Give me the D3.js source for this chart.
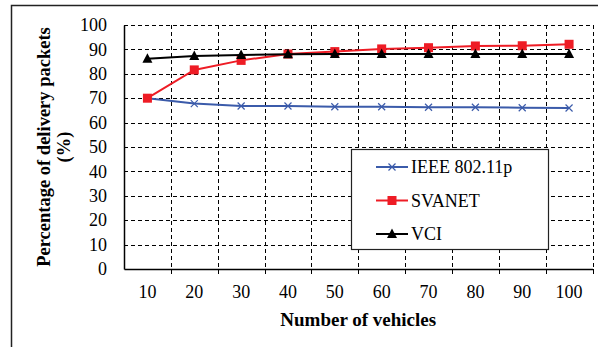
<!DOCTYPE html>
<html>
<head>
<meta charset="utf-8">
<script src="https://cdn.jsdelivr.net/npm/d3@7"></script>
<style>
  html, body { margin: 0; padding: 0; background: #fff; }
  svg { display: block; }
</style>
</head>
<body>
<svg id="chart" width="598" height="347"></svg>
<script>
// Delivery ratio vs. number of vehicles
const vehicles = [10, 20, 30, 40, 50, 60, 70, 80, 90, 100];
const ieee = [70.0, 67.8, 66.8, 66.8, 66.5, 66.5, 66.3, 66.3, 66.1, 66.0];
const svanet = [70.0, 81.6, 85.5, 88.1, 89.1, 90.2, 90.7, 91.4, 91.5, 92.1];
const vci = [86.2, 87.3, 87.7, 88.0, 88.1, 88.1, 88.1, 88.1, 88.1, 88.1];
const yTicks = [0, 10, 20, 30, 40, 50, 60, 70, 80, 90, 100];
const seriesNames = ["IEEE 802.11p", "SVANET", "VCI"];

const FONT = "'Liberation Serif', 'Times New Roman', Times, 'DejaVu Serif', serif";

const series = [
  { name: seriesNames[0], values: ieee, color: "#3b5baa", marker: "x" },
  { name: seriesNames[1], values: svanet, color: "#ee1c25", marker: "square" },
  { name: seriesNames[2], values: vci, color: "#000000", marker: "triangle" }
];

const svg = d3.select("#chart").attr("font-family", FONT);
const plot = { left: 124, top: 25, right: 592.5, bottom: 269 };

// outer frame
svg.append("path")
  .attr("d", "M11.5,347 L11.5,5.5 L598,5.5")
  .attr("fill", "none").attr("stroke", "#222").attr("stroke-width", 1.5);

const x = d3.scaleBand().domain(vehicles).range([plot.left, plot.right]).padding(0);
const y = d3.scaleLinear().domain([0, 100]).range([plot.bottom, plot.top]);

// horizontal grid
svg.append("g").selectAll("line").data(yTicks.filter(t => t > 0)).join("line")
  .attr("x1", plot.left).attr("x2", plot.right)
  .attr("y1", d => Math.round(y(d)) + 0.5).attr("y2", d => Math.round(y(d)) + 0.5)
  .attr("stroke", "#000").attr("stroke-width", 1).attr("stroke-dasharray", "4,3");

// vertical grid at category boundaries
const bounds = vehicles.slice(1).map(v => x(v)).concat([plot.right]);
svg.append("g").selectAll("line").data(bounds).join("line")
  .attr("x1", d => Math.round(d) + 0.5).attr("x2", d => Math.round(d) + 0.5)
  .attr("y1", plot.top).attr("y2", plot.bottom)
  .attr("stroke", "#000").attr("stroke-width", 1).attr("stroke-dasharray", "4,3");

// axes
const yAxis = d3.axisLeft(y).tickValues(yTicks).tickSize(0).tickPadding(17);
const yg = svg.append("g").attr("transform", `translate(${plot.left},0)`).call(yAxis)
  .attr("font-family", FONT).attr("font-size", 18);
yg.select(".domain").attr("stroke", "#000").attr("stroke-width", 1.5);
yg.selectAll("text").attr("fill", "#000");

const xAxis = d3.axisBottom(x).tickSize(0).tickPadding(16);
const xg = svg.append("g").attr("transform", `translate(0,${plot.bottom})`).call(xAxis)
  .attr("font-family", FONT).attr("font-size", 18);
xg.select(".domain").attr("stroke", "#000").attr("stroke-width", 1.5);
xg.selectAll("text").attr("fill", "#000");

// tick marks at category boundaries on x axis
svg.append("g").selectAll("line").data(bounds).join("line")
  .attr("x1", d => Math.round(d) + 0.5).attr("x2", d => Math.round(d) + 0.5)
  .attr("y1", plot.bottom).attr("y2", plot.bottom + 5)
  .attr("stroke", "#000").attr("stroke-width", 1);

// axis titles
svg.append("text")
  .attr("x", (plot.left + plot.right) / 2).attr("y", 326)
  .attr("text-anchor", "middle")
  .attr("font-size", 19).attr("font-weight", "bold")
  .text("Number of vehicles");

const yt = svg.append("text")
  .attr("transform", `translate(50,${(plot.top + plot.bottom) / 2}) rotate(-90)`)
  .attr("text-anchor", "middle")
  .attr("font-size", 18.5).attr("font-weight", "bold");
yt.append("tspan").attr("x", 0).attr("dy", 0).text("Percentage of delivery packets");
yt.append("tspan").attr("x", 0).attr("dy", 20).text("(%)");

// series
const cx = d => x(d) + x.bandwidth() / 2;
const line = d3.line().x((d, i) => cx(vehicles[i])).y(d => y(d));

function drawMarker(g, type, px, py, color) {
  if (type === "square") {
    g.append("rect").attr("x", px - 4.5).attr("y", py - 4.5).attr("width", 9).attr("height", 9)
      .attr("fill", color);
  } else if (type === "triangle") {
    g.append("path").attr("d", `M${px},${py - 5.5} L${px + 5},${py + 4} L${px - 5},${py + 4} Z`)
      .attr("fill", color);
  } else {
    g.append("path").attr("d", `M${px - 3.5},${py - 3.5} L${px + 3.5},${py + 3.5} M${px - 3.5},${py + 3.5} L${px + 3.5},${py - 3.5}`)
      .attr("stroke", color).attr("stroke-width", 1.2).attr("fill", "none");
  }
}

series.forEach(s => {
  const g = svg.append("g");
  g.append("path").attr("d", line(s.values))
    .attr("fill", "none").attr("stroke", s.color).attr("stroke-width", 2);
  s.values.forEach((v, i) => drawMarker(g, s.marker, cx(vehicles[i]), y(v), s.color));
});

// legend
const lg = svg.append("g");
lg.append("rect").attr("x", 351.5).attr("y", 149.5).attr("width", 197).attr("height", 100)
  .attr("fill", "#fff").attr("stroke", "#222").attr("stroke-width", 1.2);
const legendY = [167, 200.5, 234];
series.forEach((s, i) => {
  const ly = legendY[i];
  lg.append("line").attr("x1", 376).attr("x2", 408).attr("y1", ly).attr("y2", ly)
    .attr("stroke", s.color).attr("stroke-width", 2);
  drawMarker(lg, s.marker, 392, ly, s.color);
  lg.append("text").attr("x", 411).attr("y", ly).attr("dy", "0.35em")
    .attr("font-size", 18).attr("fill", "#000").text(s.name);
});
</script>
</body>
</html>
